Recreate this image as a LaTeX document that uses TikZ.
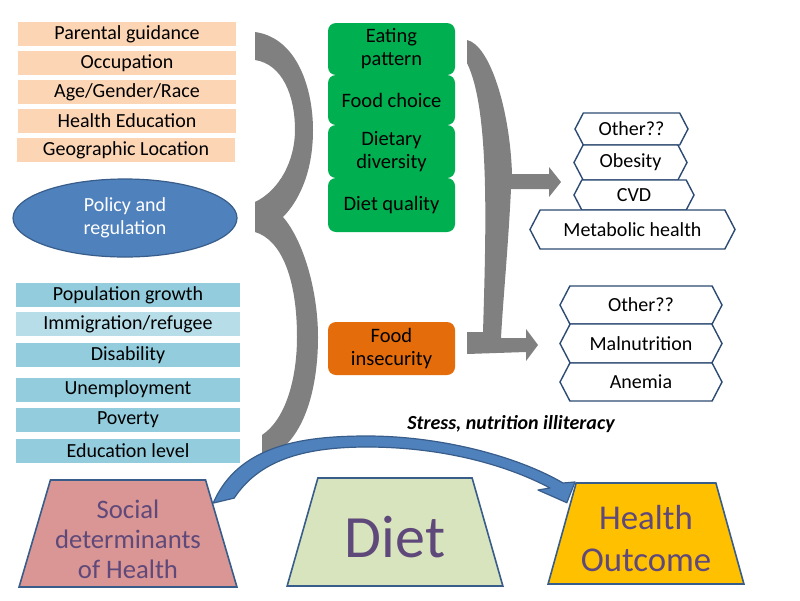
\documentclass[tikz,border=0pt]{standalone}
\usepackage{fontspec}
\setmainfont{Carlito}
\usetikzlibrary{shapes.geometric,shapes.symbols,arrows.meta,calc}
\definecolor{peach}{HTML}{FCD5B5}
\definecolor{aqua}{HTML}{93CDDD}
\definecolor{aqualight}{HTML}{B7DEE8}
\definecolor{policyblue}{HTML}{4F81BD}
\definecolor{borderblue}{HTML}{385D8A}
\definecolor{dietgreen}{HTML}{00B050}
\definecolor{insecorange}{HTML}{E46C0A}
\definecolor{bracegray}{HTML}{808080}
\definecolor{hexline}{HTML}{2C4A73}
\definecolor{sdhpink}{HTML}{D99694}
\definecolor{dietlight}{HTML}{D7E4BD}
\definecolor{outcomeyellow}{HTML}{FFC000}
\definecolor{labelpurple}{HTML}{5F497A}
\tikzset{
  factor/.style={rectangle, inner sep=0pt, minimum width=218pt, minimum height=24pt,
    font=\fontsize{20}{23}\selectfont},
  dietbox/.style={rectangle, rounded corners=8pt, fill=dietgreen, inner sep=0pt,
    minimum width=127pt, align=center, font=\fontsize{20.5}{23}\selectfont},
  hexa/.style={signal, signal to=west and east, signal pointer angle=125, draw=hexline,
    line width=1.4pt, fill=white, inner sep=0pt, font=\fontsize{20}{23}\selectfont},
  level/.style={trapezium, trapezium stretches=true, draw=borderblue, line width=1.6pt,
    inner sep=2pt},
  leveltext/.style={align=center, text=labelpurple, inner sep=0pt},
}
\begin{document}
\begin{tikzpicture}[x=1pt,y=-1pt]
  \fill[white] (0,0) rectangle (800,600);
  \useasboundingbox (0,0) rectangle (800,600);
  % Einflussfaktoren oben
  \node[factor, fill=peach] (guid) at (127,34) {Parental guidance};
  \node[factor, fill=peach] (occu) at (127,63) {Occupation};
  \node[factor, fill=peach] (agr) at (127,92) {Age/Gender/Race};
  \node[factor, fill=peach] (hedu) at (127,121) {Health Education};
  \node[factor, fill=peach] (geo) at (126,150) {Geographic Location};
  % Politik
  \node[ellipse, fill=policyblue, draw=borderblue, line width=1.2pt, minimum width=224pt,
    minimum height=78pt, inner sep=0pt, align=center, text=white,
    font=\fontsize{20}{23}\selectfont] (policy) at (125,218) {Policy and\\regulation};
  % Einflussfaktoren unten
  \node[factor, fill=aqua, minimum width=224pt] (pop) at (128,295) {Population growth};
  \node[factor, fill=aqualight, minimum width=224pt] (immi) at (128,324) {Immigration/refugee};
  \node[factor, fill=aqua, minimum width=224pt] (disa) at (128,355) {Disability};
  \node[factor, fill=aqua, minimum width=224pt] (unemp) at (128,389.5) {Unemployment};
  \node[factor, fill=aqua, minimum width=224pt] (pov) at (128,420) {Poverty};
  \node[factor, fill=aqua, minimum width=224pt] (edu) at (128,451) {Education level};
  % erste Klammer
  \fill[bracegray] (255,32) .. controls (298,38) and (313,90) .. (313,130)
    .. controls (313,175) and (297,203) .. (283,217)
    .. controls (303,240) and (318,290) .. (318,337)
    .. controls (318,405) and (295,452) .. (262,458)
    -- (262,435) .. controls (285,420) and (297,380) .. (297,337)
    .. controls (297,280) and (282,240) .. (255,232)
    -- (255,202) .. controls (280,190) and (295,160) .. (295,130)
    .. controls (295,95) and (282,64) .. (255,60) -- cycle;
  % Ernaehrung
  \node[dietbox, minimum height=52pt] (eat) at (391.5,49) {Eating\\pattern};
  \node[dietbox, minimum height=50pt] (choice) at (391.5,100) {Food choice};
  \node[dietbox, minimum height=53pt] (divers) at (391.5,151.5) {Dietary\\diversity};
  \node[dietbox, minimum height=54pt] (quality) at (391.5,205) {Diet quality};
  \node[dietbox, fill=insecorange, minimum height=53pt] (insec) at (391.5,348.5) {Food\\insecurity};
  % zweite Klammer mit Pfeilen
  \fill[bracegray] (467,40) .. controls (490,45) and (510,110) .. (512,174)
    -- (549,174) -- (549,167) -- (561,182) -- (549,197) -- (549,189) -- (511,189)
    .. controls (508,250) and (503,300) .. (501,338)
    -- (526,338) -- (526,329) -- (538,345) -- (526,361) -- (526,352)
    -- (467,354) -- (467,332) -- (483,332)
    .. controls (486,230) and (490,110) .. (467,63) -- cycle;
  % Folgen
  \node[hexa, minimum width=113pt, minimum height=32pt] (other1) at (631.5,129) {Other??};
  \node[hexa, minimum width=113pt, minimum height=35pt] (obes) at (630.5,162.5) {Obesity};
  \node[hexa, minimum width=120pt, minimum height=30pt] (cvd) at (634,195) {CVD};
  \node[hexa, minimum width=205pt, minimum height=39pt] (meta) at (632.5,229.5) {Metabolic health};
  \node[hexa, minimum width=162pt, minimum height=38pt] (other2) at (641,305) {Other??};
  \node[hexa, minimum width=162pt, minimum height=39pt] (malnu) at (641,343.5) {Malnutrition};
  \node[hexa, minimum width=162pt, minimum height=38pt] (anem) at (641,382) {Anemia};
  % Ebenen
  \node[level, fill=sdhpink, trapezium angle=76.3, minimum width=218pt, minimum height=107pt]
    (sdh) at (128,533.5) {\phantom{M}};
  \node[level, fill=dietlight, trapezium angle=76.5, minimum width=216pt, minimum height=108pt]
    (diet) at (395,532) {\phantom{M}};
  \node[level, fill=outcomeyellow, trapezium angle=76.4, minimum width=196pt, minimum height=101pt]
    (outc) at (646,533.5) {\phantom{M}};
  \node[leveltext, font=\fontsize{26.7}{30}\selectfont] (sdhtext) at ($(sdh.center)+(0,6)$)
    {Social\\determinants\\of Health};
  \node[leveltext, font=\fontsize{60}{60}\selectfont] (diettext) at ($(diet.center)+(0,5)$) {Diet};
  \node[leveltext, font=\fontsize{34.8}{42}\selectfont] (outctext) at ($(outc.center)+(0,5)$)
    {Health\\Outcome};
  \node[font=\fontsize{20}{22}\selectfont\bfseries\itshape] (stress) at (511,424)
    {Stress, nutrition illiteracy};
  % Bogenpfeil
  \coordinate (from) at ($(sdh.top right corner)!0.22!(sdh.bottom right corner)$);
  \coordinate (to) at ($(outc.top left corner)!0.2!(outc.bottom left corner)+(-3,0)$);
  \filldraw[fill=policyblue, draw=borderblue, line width=1.2pt, line join=round]
    (from) .. controls (238,446) and (300,436) .. (367,436)
    .. controls (440,436) and (517,456) .. (563,483)
    -- (575,482) -- (to) -- (538,490) -- (550,488)
    .. controls (505,464) and (440,447) .. (367,447)
    .. controls (300,447) and (258,462) .. ($(from)+(21,-5)$) -- cycle;
\end{tikzpicture}
\end{document}
